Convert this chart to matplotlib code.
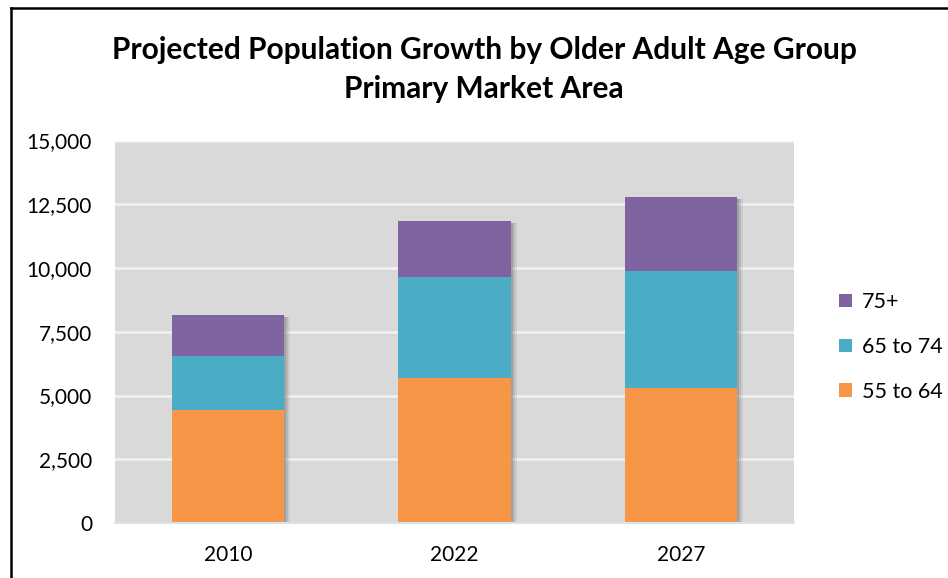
import matplotlib
matplotlib.use("Agg")
import matplotlib.pyplot as plt
from matplotlib.lines import Line2D
from matplotlib.patches import Patch
import matplotlib.transforms as mtransforms
import numpy as np

years = ["2010", "2022", "2027"]
age_55_64 = [4450, 5690, 5300]
age_65_74 = [2085, 3970, 4600]
age_75_plus = [1640, 2190, 2875]
series_names = ["55 to 64", "65 to 74", "75+"]
colors = ["#F79646", "#4BACC6", "#8064A2"]
yticks = [0, 2500, 5000, 7500, 10000, 12500, 15000]

plt.rcParams['font.family'] = ['Lato', 'DejaVu Sans']

fig = plt.figure(figsize=(9.48, 5.78), dpi=100)
W, H = 948, 578
ax = fig.add_axes([115 / W, 1 - 523 / H, (794 - 115) / W, (523 - 140.5) / H])
ax.set_facecolor("#D9D9D9")

x = np.arange(len(years))
totals = np.array(age_55_64) + np.array(age_65_74) + np.array(age_75_plus)

# soft right-side shadow behind each full stack
for dx, a in [(6, 0.15), (4, 0.25), (2, 0.4)]:
    tr = mtransforms.offset_copy(ax.transData, fig=fig, x=dx, y=-2, units="dots")
    ax.bar(x, totals, 0.495, color="#7F7F7F", alpha=a, zorder=2, transform=tr, linewidth=0)

bottom = np.zeros(len(years))
for vals, name, c in zip([age_55_64, age_65_74, age_75_plus], series_names, colors):
    ax.bar(x, vals, 0.495, bottom=bottom, color=c, label=name, zorder=3, linewidth=0)
    bottom += np.array(vals)

ax.set_xlim(-0.5, 2.5)
ax.set_ylim(0, 15000)
ax.set_yticks(yticks)
ax.set_yticklabels([f"{v:,}" for v in yticks])
ax.yaxis.grid(True, color="#F2F2F2", linewidth=1.8, zorder=1)
ax.set_axisbelow(True)
ax.set_xticks(x)
ax.set_xticklabels(years)
for s in ["top", "right", "left"]:
    ax.spines[s].set_visible(False)
ax.spines["bottom"].set_color("#D9E3F0")
ax.spines["bottom"].set_linewidth(1.5)
ax.spines["bottom"].set_zorder(4)
ax.tick_params(axis="both", length=0, labelsize=15, colors="black")
ax.tick_params(axis="y", pad=16.5)
ax.tick_params(axis="x", pad=16)

fig.text(484 / W, 1 - 50 / H, "Projected Population Growth by Older Adult Age Group",
         ha="center", va="center", fontsize=21.5, fontweight="bold")
fig.text(484 / W, 1 - 89 / H, "Primary Market Area",
         ha="center", va="center", fontsize=21.5, fontweight="bold")

handles = [Patch(facecolor=colors[i], edgecolor="none") for i in [2, 1, 0]]
labels = [series_names[i] for i in [2, 1, 0]]
leg = fig.legend(handles, labels, loc="center left", bbox_to_anchor=(820 / W, 1 - 347 / H),
                 frameon=False, fontsize=15.5, handlelength=0.6, handleheight=0.6,
                 labelspacing=1.15, handletextpad=0.45)

# border
fig.add_artist(Line2D([10.5 / W, 10.5 / W], [0, 1 - 8 / H], color="black", linewidth=1.8))
fig.add_artist(Line2D([10.5 / W, 1], [1 - 8 / H, 1 - 8 / H], color="black", linewidth=1.8))

fig.savefig("out.png", dpi=100)
